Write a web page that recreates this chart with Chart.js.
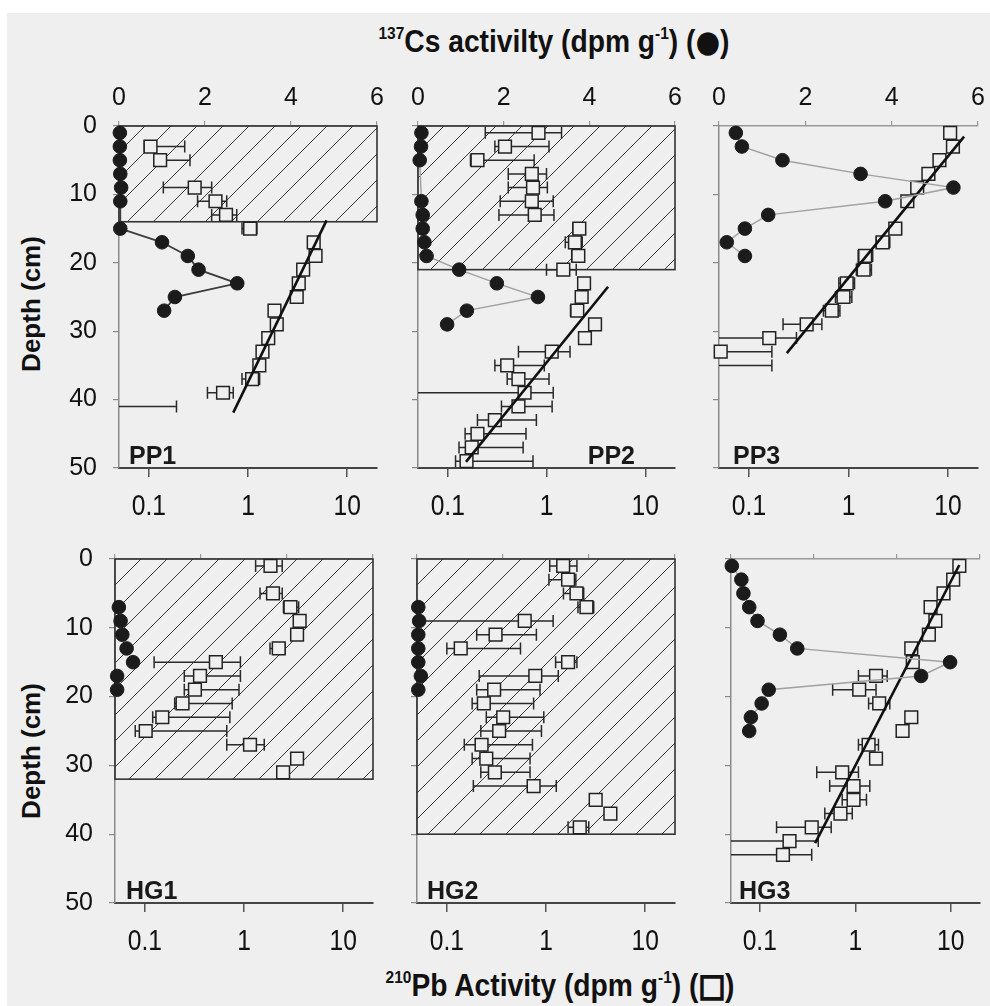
<!DOCTYPE html>
<html>
<head>
<meta charset="utf-8">
<script src="https://cdn.jsdelivr.net/npm/chart.js@4.4.1/dist/chart.umd.min.js"></script>
<style>
  body { margin: 0; background: #ffffff; }
  #page { position: relative; width: 990px; height: 1006px; overflow: hidden; }
  #bg { position: absolute; left: 7px; top: 13px; right: 0; bottom: 0; background: #efefef; }
  canvas { position: absolute; left: 0; top: 0; }
  .axis-title {
    position: absolute; white-space: nowrap; color: #111;
    font-family: 'Liberation Sans', Arial, sans-serif;
    font-weight: bold; font-size: 31px;
    transform: translate(-50%, -50%) scaleX(0.91);
  }
  .axis-title sup { font-size: 17px; vertical-align: 13px; line-height: 0; }
  .depth {
    position: absolute; white-space: nowrap; color: #111;
    font-family: 'Liberation Sans', Arial, sans-serif; font-weight: bold; font-size: 26px;
    transform: translate(-50%, -50%) rotate(-90deg);
  }
  .sym { font-family: 'DejaVu Sans', sans-serif; }
  .sym.open { -webkit-text-stroke: 2px #111; }
</style>
</head>
<body>
<div id="page">
  <div id="bg"></div>
  <div class="axis-title" style="left:554px; top:41px;"><sup>137</sup>Cs activilty (dpm g<sup>-1</sup>) (<span class="sym">●</span>)</div>
  <div class="axis-title" style="left:560px; top:985px;"><sup>210</sup>Pb Activity (dpm g<sup>-1</sup>) (<span class="sym open">□</span>)</div>
  <div class="depth" style="left:31px; top:304px;">Depth (cm)</div>
  <div class="depth" style="left:31px; top:751px;">Depth (cm)</div>
</div>

<script>
// Tick labels
const depthTicks = [0, 10, 20, 30, 40, 50];
const csTicks = [0, 2, 4, 6];
const pbTicks = [0.1, 1, 10];

// ---- PP1 ----
const csDepthPP1 = [1, 3, 5, 7, 9, 11, 15, 17, 19, 21, 23, 25, 27];
const csPP1 = [0.02, 0.02, 0.02, 0.03, 0.05, 0.03, 0.03, 1.0, 1.6, 1.85, 2.75, 1.3, 1.05];
const pbDepthPP1 = [3, 5, 9, 11, 13, 15, 17, 19, 21, 23, 25, 27, 29, 31, 33, 35, 37, 39, 41];
const pbPP1 = [0.104, 0.13, 0.29, 0.47, 0.6, 1.05, 4.6, 4.8, 3.6, 3.25, 3.1, 1.85, 1.95, 1.6, 1.4, 1.3, 1.1, 0.56, null];
const pbLoPP1 = [0.09, 0.12, 0.14, 0.31, 0.43, 0.87, 4.3, 4.5, 3.3, 3.0, 2.9, 1.7, 1.8, 1.45, 1.25, 1.2, 0.87, 0.39, 0.01];
const pbHiPP1 = [0.23, 0.26, 0.43, 0.61, 0.77, 1.23, 4.9, 5.1, 3.9, 3.5, 3.4, 2.0, 2.1, 1.75, 1.55, 1.45, 1.31, 0.71, 0.19];
const boxPP1 = 14;
const fitDepthPP1 = [13.8, 41.9];
const fitPbPP1 = [6.2, 0.71];

// ---- PP2 ----
const csDepthPP2 = [1, 3, 5, 11, 13, 15, 17, 19, 21, 23, 25, 27, 29];
const csPP2 = [0.08, 0.07, 0.04, 0.08, 0.11, 0.11, 0.15, 0.2, 0.96, 1.84, 2.8, 1.14, 0.68];
const pbDepthPP2 = [1, 3, 5, 7, 9, 11, 13, 15, 17, 19, 21, 23, 25, 27, 29, 31, 33, 35, 37, 39, 41, 43, 45, 47, 49];
const pbPP2 = [0.83, 0.38, 0.2, 0.71, 0.73, 0.71, 0.76, 2.15, 1.94, 2.1, 1.48, 2.4, 2.27, 2.05, 3.1, 2.45, 1.13, 0.4, 0.52, 0.6, 0.52, 0.3, 0.2, 0.175, 0.155];
const pbLoPP2 = [0.24, 0.3, 0.17, 0.41, 0.41, 0.34, 0.33, 1.85, 1.55, 1.8, 1.0, 2.1, 2.0, 1.75, 2.7, 2.15, 0.52, 0.3, 0.4, 0.01, 0.35, 0.2, 0.15, 0.13, 0.12];
const pbHiPP2 = [1.42, 1.06, 0.75, 1.0, 1.02, 1.17, 1.19, 2.35, 2.3, 2.4, 2.0, 2.7, 2.55, 2.35, 3.5, 2.75, 1.73, 0.95, 1.06, 1.17, 1.14, 0.79, 0.62, 0.58, 0.73];
const boxPP2 = 21;
const fitDepthPP2 = [23.5, 49.1];
const fitPbPP2 = [4.2, 0.153];

// ---- PP3 ----
const csDepthPP3 = [1, 3, 5, 7, 9, 11, 13, 15, 17, 19];
const csPP3 = [0.39, 0.53, 1.47, 3.28, 5.43, 3.85, 1.14, 0.6, 0.18, 0.6];
const pbDepthPP3 = [1, 3, 5, 7, 9, 11, 15, 17, 19, 21, 23, 25, 27, 29, 31, 33, 35];
const pbPP3 = [10.5, 11.2, 8.2, 6.35, 4.9, 3.9, 2.95, 2.2, 1.47, 1.42, 0.96, 0.89, 0.68, 0.38, 0.16, 0.052, null];
const pbLoPP3 = [9.8, 10.4, 7.4, 5.7, 4.4, 3.5, 2.6, 1.9, 1.25, 1.2, 0.8, 0.74, 0.56, 0.22, 0.01, 0.01, 0.01];
const pbHiPP3 = [11.2, 12.0, 9.1, 7.1, 5.5, 4.4, 3.4, 2.6, 1.75, 1.7, 1.15, 1.08, 0.82, 0.54, 0.30, 0.17, 0.17];
const boxPP3 = null;
const fitDepthPP3 = [1.56, 33.2];
const fitPbPP3 = [14.5, 0.24];

// ---- HG1 ----
const csDepthHG1 = [7, 9, 11, 13, 15, 17, 19];
const csHG1 = [0.09, 0.13, 0.17, 0.27, 0.42, 0.05, 0.05];
const pbDepthHG1 = [1, 5, 7, 9, 11, 13, 15, 17, 19, 21, 23, 25, 27, 29, 31];
const pbHG1 = [1.85, 1.96, 2.94, 3.64, 3.43, 2.24, 0.52, 0.36, 0.32, 0.24, 0.15, 0.102, 1.15, 3.43, 2.48];
const pbLoHG1 = [1.31, 1.45, 2.5, 3.2, 3.0, 1.83, 0.124, 0.25, 0.25, 0.2, 0.12, 0.08, 0.67, 3.0, 2.2];
const pbHiHG1 = [2.43, 2.43, 3.56, 4.1, 3.9, 2.6, 0.92, 0.92, 0.89, 0.76, 0.72, 0.67, 1.6, 3.9, 2.8];
const boxHG1 = 32;
const fitDepthHG1 = [];
const fitPbHG1 = [];

// ---- HG2 ----
const csDepthHG2 = [7, 9, 11, 13, 15, 17, 19];
const csHG2 = [0.03, 0.05, 0.03, 0.03, 0.03, 0.09, 0.03];
const pbDepthHG2 = [1, 3, 5, 7, 9, 11, 13, 15, 17, 19, 21, 23, 25, 27, 29, 31, 33, 35, 37, 39];
const pbHG2 = [1.49, 1.67, 2.03, 2.56, 0.61, 0.31, 0.138, 1.67, 0.78, 0.3, 0.236, 0.37, 0.337, 0.224, 0.25, 0.305, 0.75, 3.17, 4.46, 2.19];
const pbLoHG2 = [1.09, 1.07, 1.5, 2.1, 0.01, 0.2, 0.1, 1.25, 0.212, 0.2, 0.18, 0.25, 0.22, 0.15, 0.18, 0.22, 0.185, 2.8, 3.9, 1.67];
const pbHiHG2 = [2.05, 2.0, 2.4, 3.03, 1.18, 0.8, 0.553, 2.05, 1.33, 0.87, 0.75, 0.95, 0.9, 0.73, 0.69, 0.69, 1.27, 3.6, 5.0, 2.7];
const boxHG2 = 40;
const fitDepthHG2 = [];
const fitPbHG2 = [];

// ---- HG3 ----
const csDepthHG3 = [1, 3, 5, 7, 9, 11, 13, 15, 17, 19, 21, 23, 25];
const csHG3 = [0.02, 0.25, 0.3, 0.44, 0.64, 1.18, 1.6, 5.29, 4.59, 0.91, 0.74, 0.48, 0.44];
const pbDepthHG3 = [1, 3, 5, 7, 9, 11, 13, 15, 17, 19, 21, 23, 25, 27, 29, 31, 33, 35, 37, 39, 41, 43];
const pbHG3 = [12.3, 10.6, 8.4, 6.15, 6.9, 5.9, 3.86, 4.0, 1.65, 1.1, 1.78, 3.86, 3.13, 1.38, 1.65, 0.73, 0.96, 0.96, 0.7, 0.35, 0.205, 0.175];
const pbLoHG3 = [11.5, 9.8, 7.6, 5.5, 6.2, 5.3, 3.4, 3.55, 1.08, 0.58, 1.38, 3.5, 2.8, 1.08, 1.45, 0.395, 0.54, 0.73, 0.48, 0.15, 0.01, 0.01];
const pbHiHG3 = [13.0, 11.8, 9.2, 6.9, 7.6, 6.5, 4.4, 4.5, 2.16, 1.65, 2.3, 4.3, 3.5, 1.75, 1.85, 1.08, 1.42, 1.31, 0.93, 0.56, 0.41, 0.35];
const boxHG3 = null;
const fitDepthHG3 = [0.87, 41.3];
const fitPbHG3 = [12.3, 0.38];

// Panels (data)
const panels = [
  { name: 'PP1', csDepth: csDepthPP1, cs: csPP1, pbDepth: pbDepthPP1, pb: pbPP1, lo: pbLoPP1, hi: pbHiPP1, box: boxPP1, fitDepth: fitDepthPP1, fitPb: fitPbPP1 },
  { name: 'PP2', csDepth: csDepthPP2, cs: csPP2, pbDepth: pbDepthPP2, pb: pbPP2, lo: pbLoPP2, hi: pbHiPP2, box: boxPP2, fitDepth: fitDepthPP2, fitPb: fitPbPP2 },
  { name: 'PP3', csDepth: csDepthPP3, cs: csPP3, pbDepth: pbDepthPP3, pb: pbPP3, lo: pbLoPP3, hi: pbHiPP3, box: boxPP3, fitDepth: fitDepthPP3, fitPb: fitPbPP3 },
  { name: 'HG1', csDepth: csDepthHG1, cs: csHG1, pbDepth: pbDepthHG1, pb: pbHG1, lo: pbLoHG1, hi: pbHiHG1, box: boxHG1, fitDepth: fitDepthHG1, fitPb: fitPbHG1 },
  { name: 'HG2', csDepth: csDepthHG2, cs: csHG2, pbDepth: pbDepthHG2, pb: pbHG2, lo: pbLoHG2, hi: pbHiHG2, box: boxHG2, fitDepth: fitDepthHG2, fitPb: fitPbHG2 },
  { name: 'HG3', csDepth: csDepthHG3, cs: csHG3, pbDepth: pbDepthHG3, pb: pbHG3, lo: pbLoHG3, hi: pbHiHG3, box: boxHG3, fitDepth: fitDepthHG3, fitPb: fitPbHG3 }
];

// plot area frames [left, right, top, bottom], plus per-panel look
const layout = {
  PP1: { frame: [119, 377, 126, 468], leftAxis: true,  topLabels: true,  label: 'left',  labelDx: 10, csLine: '#3c3c3c', showCsLine: true },
  PP2: { frame: [418, 675, 126, 468], leftAxis: false, topLabels: true,  label: 'right', labelDx: 40, csLine: '#a0a0a0', showCsLine: true },
  PP3: { frame: [719, 978, 126, 468], leftAxis: false, topLabels: true,  label: 'left',  labelDx: 14, csLine: '#a0a0a0', showCsLine: true },
  HG1: { frame: [115, 373, 559, 903], leftAxis: true,  topLabels: false, label: 'left',  labelDx: 11, csLine: '#a0a0a0', showCsLine: false },
  HG2: { frame: [417, 675, 559, 903], leftAxis: false, topLabels: false, label: 'left',  labelDx: 10, csLine: '#a0a0a0', showCsLine: false },
  HG3: { frame: [731, 989, 559, 903], leftAxis: false, topLabels: false, label: 'left',  labelDx: 8,  csLine: '#a0a0a0', showCsLine: true }
};

const W = 990, H = 1006;
const regular = "'Liberation Sans', Arial, sans-serif";
const bgColor = '#efefef';

// Hatched box, error bars, narrow log tick labels and the panel name
const panelExtras = {
  id: 'panelExtras',
  beforeDatasetsDraw(chart, args, opts) {
    const { ctx, chartArea: a } = chart;
    const x = chart.scales.x, y = chart.scales.y;

    if (opts.box) {
      const top = y.getPixelForValue(0), bot = y.getPixelForValue(opts.box);
      const h = bot - top;
      ctx.save();
      ctx.beginPath();
      ctx.rect(a.left, top, a.right - a.left, h);
      ctx.clip();
      ctx.strokeStyle = '#3a3a3a';
      ctx.lineWidth = 1;
      ctx.beginPath();
      for (let s = a.left - h; s < a.right + 26; s += 26) {
        ctx.moveTo(s, bot);
        ctx.lineTo(s + h, top);
      }
      ctx.stroke();
      ctx.restore();
      ctx.save();
      ctx.strokeStyle = '#333';
      ctx.lineWidth = 1.6;
      ctx.strokeRect(a.left, top, a.right - a.left, h);
      ctx.restore();
    }

    // horizontal error bars on the 210Pb values
    ctx.save();
    ctx.beginPath();
    ctx.rect(a.left, a.top - 10, a.right - a.left + 10, a.bottom - a.top + 20);
    ctx.clip();
    ctx.strokeStyle = '#2a2a2a';
    ctx.lineWidth = 1.5;
    opts.depth.forEach((d, i) => {
      const py = y.getPixelForValue(d);
      const lo = opts.lo[i], hi = opts.hi[i];
      const x0 = x.getPixelForValue(Math.max(lo, x.min));
      const x1 = x.getPixelForValue(hi);
      ctx.beginPath();
      ctx.moveTo(x0, py);
      ctx.lineTo(x1, py);
      if (lo > x.min) {
        ctx.moveTo(x0, py - 6);
        ctx.lineTo(x0, py + 6);
      }
      ctx.moveTo(x1, py - 6);
      ctx.lineTo(x1, py + 6);
      ctx.stroke();
    });
    ctx.restore();
  },
  afterDraw(chart, args, opts) {
    const { ctx, chartArea: a } = chart;
    const x = chart.scales.x;

    // log axis labels, in a condensed face like the original
    ctx.save();
    ctx.font = '30px ' + regular;
    ctx.fillStyle = '#111';
    ctx.textAlign = 'center';
    ctx.textBaseline = 'middle';
    x.ticks.forEach(t => {
      ctx.save();
      ctx.translate(x.getPixelForValue(t.value), a.bottom + 39);
      ctx.scale(0.82, 1);
      ctx.fillText(String(t.value), 0, 0);
      ctx.restore();
    });
    ctx.restore();

    ctx.save();
    ctx.font = 'bold 25px ' + regular;
    ctx.fillStyle = '#1a1a1a';
    ctx.textBaseline = 'alphabetic';
    if (opts.labelSide === 'right') {
      ctx.textAlign = 'right';
      ctx.fillText(opts.name, a.right - opts.labelDx, a.bottom - 4);
    } else {
      ctx.textAlign = 'left';
      ctx.fillText(opts.name, a.left + opts.labelDx, a.bottom - 4);
    }
    ctx.restore();
  }
};

function fixedTicks(values) {
  return function (scale) {
    scale.ticks = values.map(v => ({ value: v }));
  };
}

panels.forEach(p => {
  const look = layout[p.name];
  const [left, right, top, bottom] = look.frame;
  const yWidth = look.leftAxis ? 70 : 8;

  const canvas = document.createElement('canvas');
  canvas.width = W;
  canvas.height = H;
  document.getElementById('page').appendChild(canvas);

  const csPoints = p.cs.map((v, i) => ({ x: v, y: p.csDepth[i] }));
  const pbPoints = p.pb.map((v, i) => ({ x: v, y: p.pbDepth[i] })).filter(pt => pt.x !== null);
  const fitPoints = p.fitPb.map((v, i) => ({ x: v, y: p.fitDepth[i] }));

  new Chart(canvas.getContext('2d'), {
    type: 'scatter',
    data: {
      datasets: [
        {
          // 137Cs, filled circles
          data: csPoints,
          xAxisID: 'x2',
          showLine: look.showCsLine,
          borderColor: look.csLine,
          borderWidth: p.name === 'PP1' ? 1.8 : 1.4,
          pointStyle: 'circle',
          pointRadius: 6.8,
          pointBackgroundColor: '#1b1b1b',
          pointBorderColor: '#1b1b1b',
          pointBorderWidth: 1,
          clip: false
        },
        {
          // fitted 210Pb decay line
          type: 'line',
          data: fitPoints,
          xAxisID: 'x',
          borderColor: '#111',
          borderWidth: 2.6,
          pointRadius: 0,
          clip: false
        },
        {
          // 210Pb, open squares
          data: pbPoints,
          xAxisID: 'x',
          pointStyle: 'rect',
          pointRadius: 9,
          pointBackgroundColor: bgColor,
          pointBorderColor: '#222',
          pointBorderWidth: 1.5,
          clip: false
        }
      ]
    },
    options: {
      responsive: false,
      animation: false,
      devicePixelRatio: 1,
      events: [],
      layout: {
        padding: { left: left - yWidth, right: W - right, top: top - 50, bottom: H - bottom - 60 }
      },
      scales: {
        x: {
          type: 'logarithmic',
          position: 'bottom',
          min: 0.05,
          max: 20,
          bounds: 'data',
          afterBuildTicks: fixedTicks(pbTicks),
          afterFit: s => { s.height = 60; s.paddingLeft = 0; s.paddingRight = 0; },
          ticks: { display: false, autoSkip: false, maxRotation: 0 },
          grid: { drawOnChartArea: false, drawTicks: true, tickLength: 9, color: '#555', lineWidth: 1.5 },
          border: { display: true, color: '#444', width: 2 }
        },
        x2: {
          type: 'linear',
          position: 'top',
          min: 0,
          max: 6,
          afterBuildTicks: fixedTicks(csTicks),
          afterFit: s => { s.height = 50; s.paddingLeft = 0; s.paddingRight = 0; },
          ticks: {
            display: look.topLabels,
            autoSkip: false,
            maxRotation: 0,
            padding: 8,
            color: '#111',
            font: { family: regular, size: 25 }
          },
          grid: { drawOnChartArea: false, drawTicks: true, tickLength: 5, color: '#999', lineWidth: 1.2 },
          border: { display: true, color: '#999', width: 1.5 }
        },
        y: {
          type: 'linear',
          reverse: true,
          min: 0,
          max: 50,
          afterBuildTicks: fixedTicks(depthTicks),
          afterFit: s => { s.width = yWidth; s.paddingTop = 0; s.paddingBottom = 0; },
          ticks: {
            display: look.leftAxis,
            autoSkip: false,
            padding: 16,
            color: '#111',
            font: { family: regular, size: 25 }
          },
          grid: { drawOnChartArea: false, drawTicks: true, tickLength: 6, color: '#888', lineWidth: 1.2 },
          border: { display: true, color: '#8a8a8a', width: 1.5 }
        }
      },
      plugins: {
        legend: { display: false },
        tooltip: { enabled: false },
        panelExtras: {
          name: p.name,
          box: p.box,
          depth: p.pbDepth,
          lo: p.lo,
          hi: p.hi,
          labelSide: look.label,
          labelDx: look.labelDx
        }
      }
    },
    plugins: [panelExtras]
  });
});
</script>
</body>
</html>
